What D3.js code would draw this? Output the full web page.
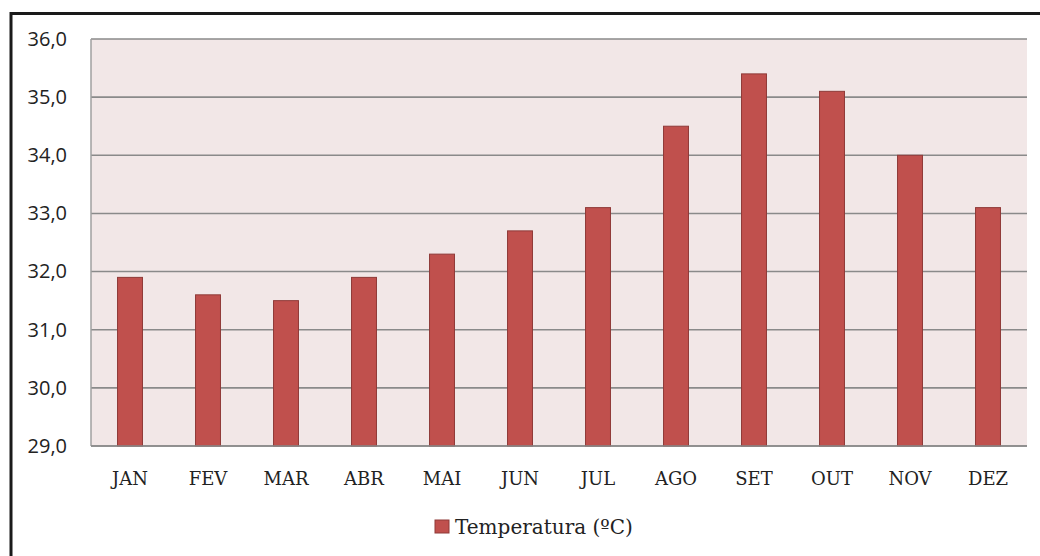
<!DOCTYPE html>
<html>
<head>
<meta charset="utf-8">
<script src="https://cdn.jsdelivr.net/npm/d3@7"></script>
<style>
  html, body { margin: 0; padding: 0; background: #fff; }
  svg { display: block; }
</style>
</head>
<body>
<svg id="chart" width="1040" height="556"></svg>
<script>
// Monthly mean maximum temperature (°C)
const months = ["JAN", "FEV", "MAR", "ABR", "MAI", "JUN", "JUL", "AGO", "SET", "OUT", "NOV", "DEZ"];
const temperatures = [31.9, 31.6, 31.5, 31.9, 32.3, 32.7, 33.1, 34.5, 35.4, 35.1, 34.0, 33.1];
const yTicks = [29, 30, 31, 32, 33, 34, 35, 36];
const seriesName = "Temperatura (ºC)";

const svg = d3.select("#chart");
const W = 1040, H = 556;
const plot = { left: 91, top: 39, right: 1027, bottom: 446 };
const serif = "'DejaVu Serif', 'Liberation Serif', serif";

// outer frame
svg.append("rect")
  .attr("x", 11).attr("y", 13.5)
  .attr("width", W + 10).attr("height", H)
  .attr("fill", "none").attr("stroke", "#1a1a1a").attr("stroke-width", 3);

const x = d3.scaleBand()
  .domain(months)
  .range([plot.left, plot.right])
  .paddingInner(0.68)
  .paddingOuter(0.34);

const y = d3.scaleLinear()
  .domain([29, 36])
  .range([plot.bottom, plot.top]);

// plot background
svg.append("rect")
  .attr("x", plot.left).attr("y", plot.top)
  .attr("width", plot.right - plot.left).attr("height", plot.bottom - plot.top)
  .attr("fill", "#f2e7e7");

// gridlines
svg.append("g")
  .selectAll("line")
  .data(yTicks)
  .join("line")
  .attr("x1", plot.left).attr("x2", plot.right)
  .attr("y1", d => y(d)).attr("y2", d => y(d))
  .attr("stroke", "#8a8a8a").attr("stroke-width", 1.6);

// left edge of plot
svg.append("line")
  .attr("x1", plot.left).attr("x2", plot.left)
  .attr("y1", plot.top).attr("y2", plot.bottom)
  .attr("stroke", "#a0a0a0").attr("stroke-width", 1.5);

// bars
svg.append("g")
  .selectAll("rect")
  .data(months.map((m, i) => ({ m, v: temperatures[i] })))
  .join("rect")
  .attr("x", d => x(d.m))
  .attr("width", x.bandwidth())
  .attr("y", d => y(d.v))
  .attr("height", d => y(29) - y(d.v))
  .attr("fill", "#c0504d")
  .attr("stroke", "#8f3a38")
  .attr("stroke-width", 1);

// baseline drawn over the bar bottoms
svg.append("line")
  .attr("x1", plot.left).attr("x2", plot.right)
  .attr("y1", y(29)).attr("y2", y(29))
  .attr("stroke", "#8a8a8a").attr("stroke-width", 1.6);

// y axis labels
const fmt = d => d3.format(".1f")(d).replace(".", ",");
const yAxis = d3.axisLeft(y).tickValues(yTicks).tickFormat(fmt).tickSize(0).tickPadding(0);
const gy = svg.append("g").attr("transform", "translate(67,0)").call(yAxis);
gy.select(".domain").remove();
gy.selectAll("text")
  .attr("font-family", "'Open Sans', 'Noto Sans', sans-serif")
  .attr("font-size", 20)
  .attr("fill", "#222");

// x axis labels
const xAxis = d3.axisBottom(x).tickSize(0).tickPadding(0);
const gx = svg.append("g").attr("transform", `translate(0,${plot.bottom + 26})`).call(xAxis);
gx.select(".domain").remove();
gx.selectAll("text")
  .attr("font-family", serif)
  .attr("font-size", 18)
  .attr("fill", "#222");

// legend
const legend = svg.append("g").attr("transform", "translate(435,520)");
legend.append("rect")
  .attr("width", 14).attr("height", 13)
  .attr("fill", "#c0504d").attr("stroke", "#8f3a38").attr("stroke-width", 1);
legend.append("text")
  .attr("x", 20).attr("y", 14)
  .attr("font-family", serif)
  .attr("font-size", 20)
  .attr("fill", "#222")
  .text(seriesName);
</script>
</body>
</html>
